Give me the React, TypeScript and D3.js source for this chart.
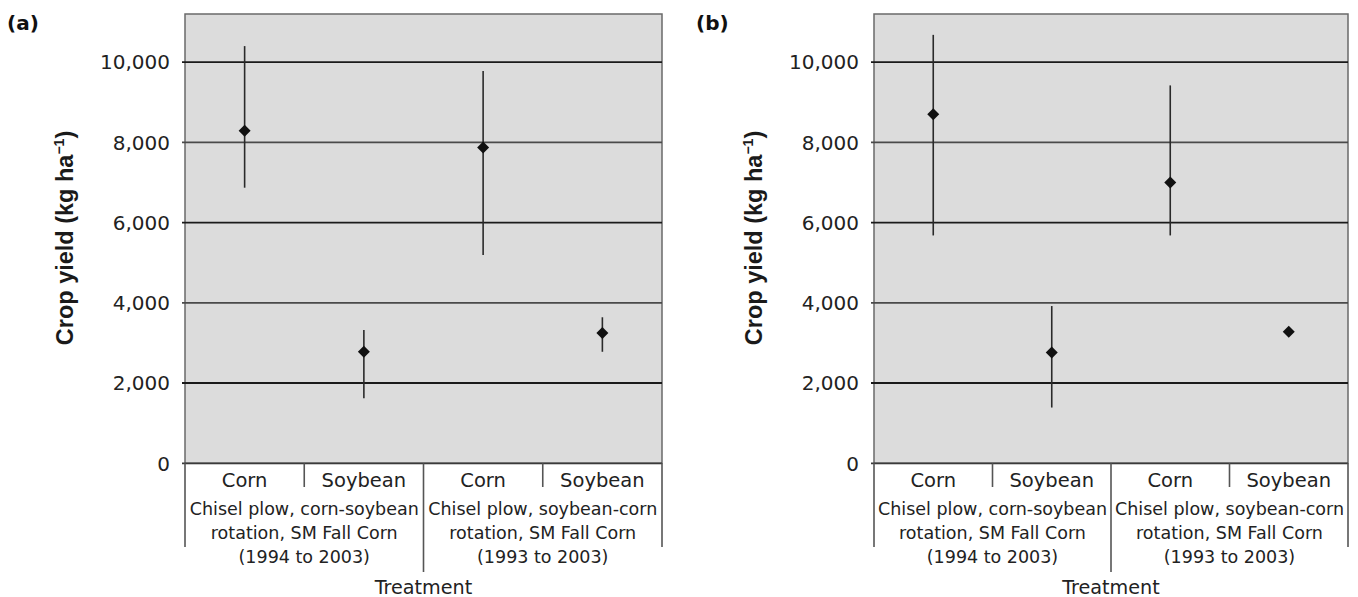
import React from "react";
import * as d3 from "d3";

const categories = ["Corn", "Soybean", "Corn", "Soybean"];
const groupLabels = [
  ["Chisel plow, corn-soybean", "rotation, SM Fall Corn", "(1994 to 2003)"],
  ["Chisel plow, soybean-corn", "rotation, SM Fall Corn", "(1993 to 2003)"],
];
const yTicks = [0, 2000, 4000, 6000, 8000, 10000];
const yMax = 11200;

const meanA = [8290, 2780, 7870, 3250];
const lowA = [6870, 1620, 5190, 2780];
const highA = [10400, 3320, 9780, 3640];

const meanB = [8700, 2760, 7000, 3280];
const lowB = [5680, 1390, 5680, 3280];
const highB = [10680, 3920, 9420, 3280];

const panels = [
  { tag: "(a)", mean: meanA, low: lowA, high: highA, left: 185, right: 662, tagX: 7 },
  { tag: "(b)", mean: meanB, low: lowB, high: highB, left: 874, right: 1348, tagX: 696 },
];

const TOP = 14;
const BOTTOM = 463.3;
const SANS = "'DejaVu Sans', sans-serif";
const BOLD = "'Liberation Sans', Arial, sans-serif";
const TEXT = "#222";

function Panel({ p }: { p: (typeof panels)[0] }) {
  const x = d3.scaleBand<number>().domain(d3.range(categories.length)).range([p.left, p.right]).padding(0);
  const y = d3.scaleLinear().domain([0, yMax]).range([BOTTOM, TOP]);
  const bw = x.bandwidth();
  const groups = [0, 1];
  const fmt = d3.format(",");
  const mid = (p.left + p.right) / 2;
  const marker = d3.symbol().type(d3.symbolSquare).size(72);
  return (
    <g>
      <text x={p.tagX} y={30} fontFamily="'DejaVu Sans', sans-serif" fontWeight="bold" fontSize={20} fill="#111">
        {p.tag}
      </text>
      <rect x={p.left} y={TOP} width={p.right - p.left} height={BOTTOM - TOP} fill="#dcdcdc" stroke="#6a6a6a" strokeWidth={1.5} />
      {yTicks.map((t) =>
        t === 0 ? null : (
          <line
            key={t}
            x1={p.left - 3}
            x2={p.right}
            y1={y(t)}
            y2={y(t)}
            stroke={t === 8000 || t === 4000 ? "#4a4a4a" : "#1a1a1a"}
            strokeWidth={1.9}
          />
        )
      )}
      {yTicks.map((t) => (
        <text key={"l" + t} x={p.left - 15} y={y(t)} dy="0.36em" textAnchor="end" fontFamily={SANS} fontSize={20} fill={TEXT}>
          {fmt(t)}
        </text>
      ))}
      <text
        transform={`translate(${p.left - 112.5},${238}) rotate(-90)`}
        textAnchor="middle"
        fontFamily={BOLD}
        fontWeight="bold"
        fontSize={23.5}
        fill="#1a1a1a"
      >
        Crop yield (kg ha
        <tspan fontSize={14} dy={-9}>−1</tspan>
        <tspan dy={9}>)</tspan>
      </text>
      {p.mean.map((m, i) => {
        const cx = (x(i) as number) + bw / 2;
        return (
          <g key={"e" + i}>
            {p.high[i] > p.low[i] && (
              <line x1={cx} x2={cx} y1={y(p.high[i])} y2={y(p.low[i])} stroke="#2a2a2a" strokeWidth={1.6} />
            )}
            <path d={marker() as string} transform={`translate(${cx},${y(m)}) rotate(45)`} fill="#111" />
          </g>
        );
      })}
      <line x1={p.left - 3} x2={p.right} y1={BOTTOM} y2={BOTTOM} stroke="#3a3a3a" strokeWidth={1.8} />
      {categories.map((c, i) => {
        const x0 = x(i) as number;
        return (
          <g key={"c" + i}>
            {i % 2 === 1 && <line x1={x0} x2={x0} y1={BOTTOM} y2={487} stroke="#555" strokeWidth={1.6} />}
            <text x={x0 + bw / 2} y={486.5} textAnchor="middle" fontFamily={SANS} fontSize={19.5} fill={TEXT}>
              {c}
            </text>
          </g>
        );
      })}
      {groups.map((g) => {
        const gc = (x(g * 2) as number) + bw;
        return (
          <g key={"g" + g}>
            {groupLabels[g].map((ln, k) => (
              <text key={k} x={gc} y={515 + k * 24} textAnchor="middle" fontFamily={SANS} fontSize={17.5} fill={TEXT}>
                {ln}
              </text>
            ))}
          </g>
        );
      })}
      <line x1={p.left} x2={p.left} y1={BOTTOM} y2={547} stroke="#555" strokeWidth={1.6} />
      <line x1={x(2) as number} x2={x(2) as number} y1={BOTTOM} y2={572} stroke="#555" strokeWidth={1.6} />
      <line x1={p.right} x2={p.right} y1={BOTTOM} y2={547} stroke="#555" strokeWidth={1.6} />
      <text x={mid} y={593.5} textAnchor="middle" fontFamily={SANS} fontSize={19.2} fill={TEXT}>
        Treatment
      </text>
    </g>
  );
}

export default function App() {
  return (
    <svg
      width={1358}
      height={597}
      viewBox="0 0 1358 597"
      style={{ position: "absolute", left: 0, top: 0, background: "#fff" }}
    >
      <rect x={0} y={0} width={1358} height={597} fill="#fff" />
      {panels.map((p) => (
        <Panel key={p.tag} p={p} />
      ))}
    </svg>
  );
}
